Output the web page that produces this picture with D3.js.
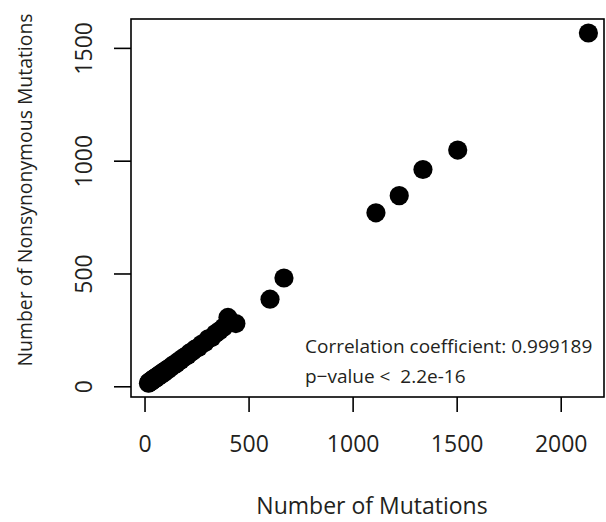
<!DOCTYPE html>
<html>
<head>
<meta charset="utf-8">
<script src="https://cdn.jsdelivr.net/npm/d3@7/dist/d3.min.js"></script>
<style>
  body { margin: 0; background: #fff; }
  text { font-family: "Open Sans", sans-serif; fill: #231f20; }
</style>
</head>
<body>
<div id="scatter"></div>
<script>
// number of mutations per sample (x) and nonsynonymous ones (y)
var mutations = [19, 21, 24, 26, 29, 31, 34, 37, 40, 43, 46, 49, 53, 56, 60, 64, 68, 72, 77, 82,
    87, 93, 99, 105, 112, 119, 127, 135, 143, 152, 162, 172, 183, 194, 206, 218, 231, 245, 259, 274,
    290, 306, 323, 341, 360, 380, 401, 439, 603, 670, 1112, 1224, 1338, 1505, 2133];
var nonsyn = [14, 16, 19, 18, 22, 24, 23, 27, 30, 29, 33, 36, 35, 40, 43, 42, 48, 51, 50, 57,
    61, 60, 68, 72, 74, 81, 85, 92, 97, 100, 110, 114, 124, 131, 137, 148, 155, 166, 172, 186,
    194, 210, 216, 234, 246, 262, 305, 278, 386, 480, 769, 845, 961, 1047, 1566];
var xTicks = [0, 500, 1000, 1500, 2000];
var yTicks = [0, 500, 1000, 1500];
var xLimits = [-65, 2208];
var yLimits = [-47.5, 1628];
var statLines = ["Correlation coefficient: 0.999189", "p\u2212value <  2.2e-16"];

var width = 606, height = 522,
    margin = { top: 19, right: 2, bottom: 125, left: 131 };

var svg = d3.select("#scatter").append("svg")
    .attr("width", width)
    .attr("height", height);

var xScale = d3.scaleLinear().domain(xLimits).range([margin.left, width - margin.right]);
var yScale = d3.scaleLinear().domain(yLimits).range([height - margin.bottom, margin.top]);

var data = mutations.map(function(m, i) { return { x: m, y: nonsyn[i] }; });

svg.append("g")
    .selectAll("circle")
    .data(data)
    .enter().append("circle")
    .attr("cx", function(d) { return xScale(d.x); })
    .attr("cy", function(d) { return yScale(d.y); })
    .attr("r", 9.6)
    .attr("fill", "#000");

// plot box
svg.append("rect")
    .attr("x", margin.left)
    .attr("y", margin.top)
    .attr("width", width - margin.right - margin.left)
    .attr("height", height - margin.bottom - margin.top)
    .attr("fill", "none")
    .attr("stroke", "#000")
    .attr("stroke-width", 1.6);

var xAxis = d3.axisBottom(xScale).tickValues(xTicks).tickSize(15).tickFormat(d3.format("d"));
var gx = svg.append("g")
    .attr("transform", "translate(0," + (height - margin.bottom) + ")")
    .call(xAxis);
gx.select(".domain").remove();
gx.selectAll("line").attr("stroke", "#000").attr("stroke-width", 1.6);
gx.selectAll("text")
    .attr("y", 0).attr("dy", null)
    .attr("transform", "translate(0,55)")
    .style("font-size", "23px")
    .attr("fill", "#231f20");

var yAxis = d3.axisLeft(yScale).tickValues(yTicks).tickSize(17).tickFormat(d3.format("d"));
var gy = svg.append("g")
    .attr("transform", "translate(" + margin.left + ",0)")
    .call(yAxis);
gy.select(".domain").remove();
gy.selectAll("line").attr("stroke", "#000").attr("stroke-width", 1.6);
gy.selectAll("text")
    .attr("x", 0).attr("dy", null)
    .attr("text-anchor", "middle")
    .attr("transform", "translate(-39,0) rotate(-90)")
    .style("font-size", "23px")
    .attr("fill", "#231f20");

// axis titles
svg.append("text")
    .attr("x", 372)
    .attr("y", 514)
    .attr("text-anchor", "middle")
    .style("font-size", "23px")
    .text("Number of Mutations");

svg.append("text")
    .attr("transform", "translate(32,190) rotate(-90)")
    .attr("text-anchor", "middle")
    .style("font-size", "19.4px")
    .text("Number of Nonsynonymous Mutations");

// correlation note
svg.selectAll(".stat")
    .data(statLines)
    .enter().append("text")
    .attr("class", "stat")
    .attr("x", 305)
    .attr("y", function(d, i) { return 353 + i * 30; })
    .style("font-size", "19px")
    .style("white-space", "pre")
    .text(function(d) { return d; });
</script>
</body>
</html>
